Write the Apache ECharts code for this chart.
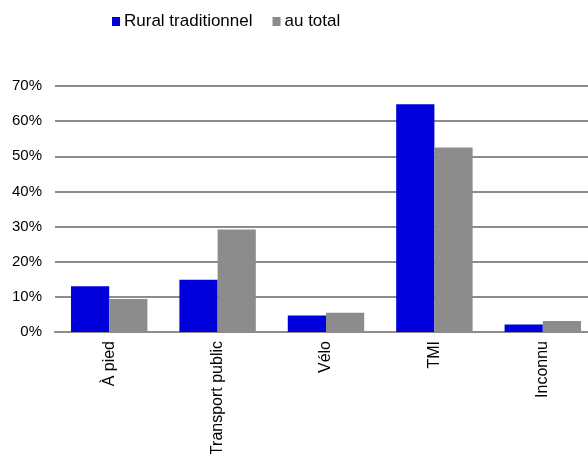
<!DOCTYPE html>
<html>
<head>
<meta charset="utf-8">
<script src="https://cdn.jsdelivr.net/npm/echarts@6/dist/echarts.min.js"></script>
<style>
html, body { margin: 0; padding: 0; background: #fff; }
#chart_1 { width: 588px; height: 454px; }
</style>
</head>
<body>
<div id="chart_1"></div>
<script>
var categories = ['À pied', 'Transport public', 'Vélo', 'TMI', 'Inconnu'];
var seriesNames = ['Rural traditionnel', 'au total'];
var ruralValues = [0.130, 0.149, 0.047, 0.648, 0.021];
var totalValues = [0.094, 0.292, 0.055, 0.525, 0.031];

function makeChart() {
	var myChart = echarts.init(document.getElementById('chart_1'));
	var font = 'Liberation Sans, Arial, sans-serif';
	var option = {
		backgroundColor: '#fff',
		animation: false,
		legend: {
			left: 107,
			top: 8,
			itemWidth: 8,
			itemHeight: 9,
			itemGap: 20,
			icon: 'rect',
			textStyle: { fontFamily: font, fontSize: 17, color: '#000', padding: [0, 0, 0, -1] },
			data: seriesNames
		},
		// plot runs past the right edge, like the source picture
		grid: {
			left: 55,
			width: 542,
			top: 86,
			height: 246,
			outerBoundsMode: 'none'
		},
		xAxis: {
			type: 'category',
			data: categories,
			axisTick: { show: false },
			axisLine: { lineStyle: { color: '#8c8c8c', width: 2 } },
			axisLabel: {
				rotate: 90,
				margin: 9,
				interval: 0,
				color: '#000',
				fontFamily: font,
				fontSize: 16
			}
		},
		yAxis: {
			type: 'value',
			min: 0,
			max: 0.7,
			interval: 0.1,
			axisLine: { show: false },
			axisTick: { show: false },
			splitLine: { lineStyle: { color: '#8c8c8c', width: 2 } },
			axisLabel: {
				margin: 13,
				color: '#000',
				fontFamily: font,
				fontSize: 15,
				formatter: function (v) {
					return Math.round(v * 100) + '%';
				}
			}
		},
		series: [{
			name: seriesNames[0],
			type: 'bar',
			data: ruralValues,
			barGap: '0%',
			barCategoryGap: '29.5%',
			itemStyle: { color: '#0000dc' }
		}, {
			name: seriesNames[1],
			type: 'bar',
			data: totalValues,
			itemStyle: { color: '#8c8c8c' }
		}]
	};
	myChart.setOption(option);
}
makeChart();
</script>
</body>
</html>
